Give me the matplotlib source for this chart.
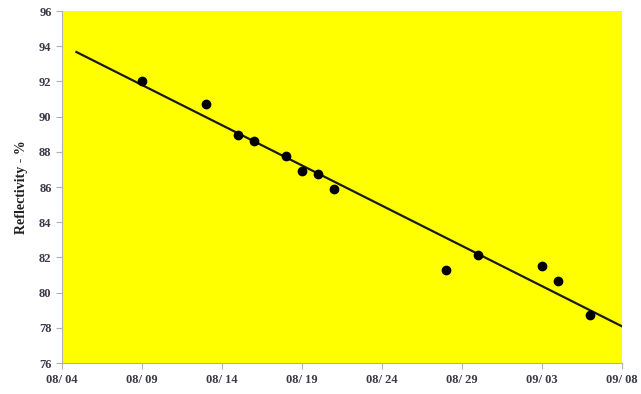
import matplotlib
matplotlib.use("Agg")
import matplotlib.pyplot as plt
import matplotlib.dates as mdates
import numpy as np
import pandas as pd

# Measurement dates and reflectivity readings
dates = ["08/09", "08/13", "08/15", "08/16", "08/18", "08/19", "08/20",
         "08/21", "08/28", "08/30", "09/03", "09/04", "09/06"]
reflectivity = [92.04, 90.72, 88.95, 88.61, 87.76, 86.93, 86.74,
                85.89, 81.28, 82.14, 81.51, 80.68, 78.73]
x_ticks = ["08/04", "08/09", "08/14", "08/19", "08/24", "08/29", "09/03", "09/08"]
y_ticks = [76, 78, 80, 82, 84, 86, 88, 90, 92, 94, 96]
year = 2003

t = pd.to_datetime([f"{year}/{d}" for d in dates], format="%Y/%m/%d")
tick_t = pd.to_datetime([f"{year}/{d}" for d in x_ticks], format="%Y/%m/%d")
xn = mdates.date2num(t)
tick_n = mdates.date2num(tick_t)

# Linear trend, extended a little before the first and after the last reading
coef = np.polyfit(xn, reflectivity, 1)
trend_x = np.array([tick_n[0] + 0.9, tick_n[-1]])
trend_y = np.polyval(coef, trend_x)

plt.rcParams["font.family"] = ["Liberation Serif", "DejaVu Serif"]

fig = plt.figure(figsize=(6.41, 3.94), dpi=100)
ax = fig.add_axes([62 / 641, 1 - 363 / 394, 560 / 641, 352 / 394])
ax.set_facecolor("#FFFF00")

ax.plot(trend_x, trend_y, color="#1a1a1a", lw=1.6, zorder=2)
ax.plot(xn, reflectivity, "o", color="black", ms=6, zorder=3)

ax.set_xlim(tick_n[0], tick_n[-1])
ax.set_ylim(76, 96)
ax.set_xticks(tick_n)
ax.set_xticklabels([s.replace("/", "/ ") for s in x_ticks])
ax.set_yticks(y_ticks)

tick_color = "#3a3a4a"
ax.tick_params(axis="both", colors="#b0b0b0", labelcolor=tick_color,
               labelsize=9, length=4, width=0.8)
ax.tick_params(axis="x", pad=4)
for lab in ax.get_xticklabels() + ax.get_yticklabels():
    lab.set_fontweight("bold")

for side in ["left", "bottom"]:
    ax.spines[side].set_color("#b0b0b0")
for side in ["top", "right"]:
    ax.spines[side].set_visible(False)

ax.set_ylabel("Reflectivity - %", fontsize=10, fontweight="bold",
              color="#202020", labelpad=8)

fig.savefig("out.png", dpi=100)
